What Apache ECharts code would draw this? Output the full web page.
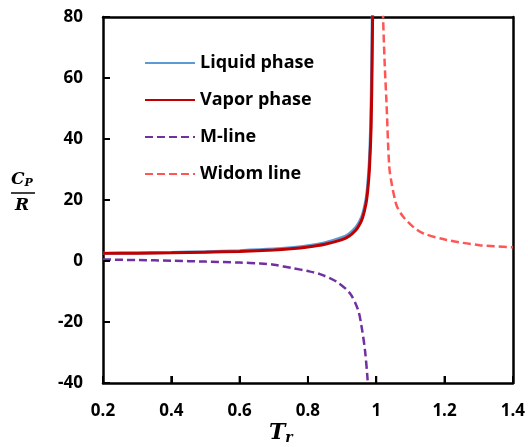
<!DOCTYPE html>
<html>
<head>
<meta charset="utf-8">
<script src="https://cdn.jsdelivr.net/npm/echarts@6/dist/echarts.min.js"></script>
<style>
  html, body { margin: 0; padding: 0; background: #fff; }
  #chart { width: 528px; height: 447px; }
</style>
</head>
<body>
<div id="chart"></div>
<script>
// Reduced temperature (T_r) vs. C_P / R for each curve
var liquidPhase = [
  [0.2, 2.55], [0.3, 2.65], [0.4, 2.8], [0.5, 3.05], [0.6, 3.4], [0.7, 3.9],
  [0.75, 4.35], [0.8, 5.0], [0.85, 6.0], [0.9, 7.7], [0.92, 8.9], [0.94, 11.0],
  [0.95, 12.7], [0.96, 15.3], [0.97, 20.2], [0.975, 25], [0.98, 33],
  [0.984, 46], [0.987, 66], [0.989, 88]
];
var vaporPhase = [
  [0.2, 2.5], [0.3, 2.55], [0.4, 2.7], [0.5, 2.9], [0.6, 3.15], [0.7, 3.6],
  [0.75, 4.0], [0.8, 4.6], [0.85, 5.5], [0.9, 7.0], [0.92, 8.1], [0.94, 10.1],
  [0.95, 11.7], [0.96, 14.2], [0.97, 18.8], [0.975, 23], [0.98, 30],
  [0.985, 44], [0.988, 66], [0.99, 88]
];
var mLine = [
  [0.2, 0.5], [0.3, 0.3], [0.4, 0.1], [0.5, -0.2], [0.6, -0.5], [0.66, -0.8],
  [0.7, -1.2], [0.757, -2.4], [0.8, -3.3], [0.835, -4.3], [0.884, -6.8],
  [0.923, -10.6], [0.947, -16.1], [0.957, -21.5], [0.967, -29.2],
  [0.974, -37.9], [0.978, -45]
];
var widomLine = [
  [1.018, 90], [1.02, 80], [1.025, 64], [1.03, 52], [1.038, 31], [1.045, 25.5],
  [1.055, 20], [1.061, 17.8], [1.079, 14.5], [1.108, 11.2], [1.137, 9.1],
  [1.206, 6.9], [1.303, 5.2], [1.4, 4.5]
];
var seriesNames = ['Liquid phase', 'Vapor phase', 'M-line', 'Widom line'];
var xTicks = [0.4, 0.6, 0.8, 1.0, 1.2];
var yTicks = [-20, 0, 20, 40, 60];
var xRange = { min: 0.2, max: 1.4, interval: 0.2 };
var yRange = { min: -40, max: 80, interval: 20 };

var FONT = '"Open Sans", "Liberation Sans", sans-serif';
var SERIF = '"DejaVu Serif", serif';
var TICK_LEN = 7;
var chart = echarts.init(document.getElementById('chart'), null, { renderer: 'canvas' });

function makeAxis(range, position, labelled, isX) {
  var axisLine = { show: true, lineStyle: { color: '#000', width: 2.5 } };
  if (isX) { axisLine.onZero = false; }
  return Object.assign({
    type: 'value',
    position: position,
    axisLine: axisLine,
    axisTick: { show: labelled, inside: true, length: TICK_LEN, lineStyle: { color: '#000', width: 2 } },
    splitLine: { show: false },
    axisLabel: { show: labelled, color: '#000', fontFamily: FONT, fontWeight: 'bold', fontSize: 17, margin: 20 }
  }, range);
}

function lineSeries(name, data, color, dashed) {
  return {
    name: name, type: 'line', data: data,
    showSymbol: false, symbol: 'none', smooth: 0.3, clip: true,
    color: color,
    lineStyle: { color: color, width: dashed ? 2.5 : 3, type: dashed ? [8, 4] : 'solid' }
  };
}

// Inward tick marks, positioned through the axis scales by a custom series
function tickSeries(points, vertical) {
  return {
    type: 'custom', silent: true, clip: false, z: 10,
    data: points,
    renderItem: function (params, api) {
      var p = api.coord([api.value(0), api.value(1)]);
      return {
        type: 'line',
        shape: vertical
          ? { x1: p[0], y1: p[1], x2: p[0], y2: p[1] - TICK_LEN }
          : { x1: p[0], y1: p[1], x2: p[0] + TICK_LEN, y2: p[1] },
        style: { stroke: '#000', lineWidth: 2 }
      };
    }
  };
}

chart.setOption({
  animation: false,
  backgroundColor: '#fff',
  grid: { left: 103, right: 15, top: 17, bottom: 64 },
  xAxis: [makeAxis(xRange, 'bottom', true, true), makeAxis(xRange, 'top', false, true)],
  yAxis: [makeAxis(yRange, 'left', true, false), makeAxis(yRange, 'right', false, false)],
  legend: {
    orient: 'vertical', left: 144, top: 54, padding: 0,
    itemWidth: 50, itemHeight: 14, itemGap: 19,
    data: seriesNames,
    itemStyle: { color: 'rgba(0,0,0,0)', borderWidth: 0, opacity: 0 },
    textStyle: { color: '#000', fontFamily: FONT, fontWeight: 'bold', fontSize: 18 }
  },
  series: [
    lineSeries(seriesNames[0], liquidPhase, '#5B9BD5', false),
    lineSeries(seriesNames[1], vaporPhase, '#C00000', false),
    lineSeries(seriesNames[2], mLine, '#7030A0', true),
    lineSeries(seriesNames[3], widomLine, '#FF5555', true),
    tickSeries(xTicks.map(function (v) { return [v, yRange.min]; }), true),
    tickSeries(yTicks.map(function (v) { return [xRange.min, v]; }), false)
  ],
  graphic: [
    { type: 'text', left: 11, top: 171,
      style: { text: '{c|C}{p|P}', rich: {
        c: { fontFamily: SERIF, fontStyle: 'italic', fontWeight: 'bold', fontSize: 17, fill: '#000' },
        p: { fontFamily: SERIF, fontStyle: 'italic', fontWeight: 'bold', fontSize: 11, fill: '#000', padding: [8, 0, 0, 0] }
      } } },
    { type: 'line', shape: { x1: 11, y1: 193, x2: 35, y2: 193 }, style: { stroke: '#000', lineWidth: 1.5 } },
    { type: 'text', left: 15, top: 197,
      style: { text: 'R', fontFamily: SERIF, fontStyle: 'italic', fontWeight: 'bold', fontSize: 17, fill: '#000' } },
    { type: 'text', left: 269, top: 422,
      style: { text: '{t|T}{r|r}', rich: {
        t: { fontFamily: SERIF, fontStyle: 'italic', fontWeight: 'bold', fontSize: 22, fill: '#000' },
        r: { fontFamily: SERIF, fontStyle: 'italic', fontWeight: 'bold', fontSize: 14, fill: '#000', padding: [10, 0, 0, 0] }
      } } }
  ]
});
</script>
</body>
</html>
